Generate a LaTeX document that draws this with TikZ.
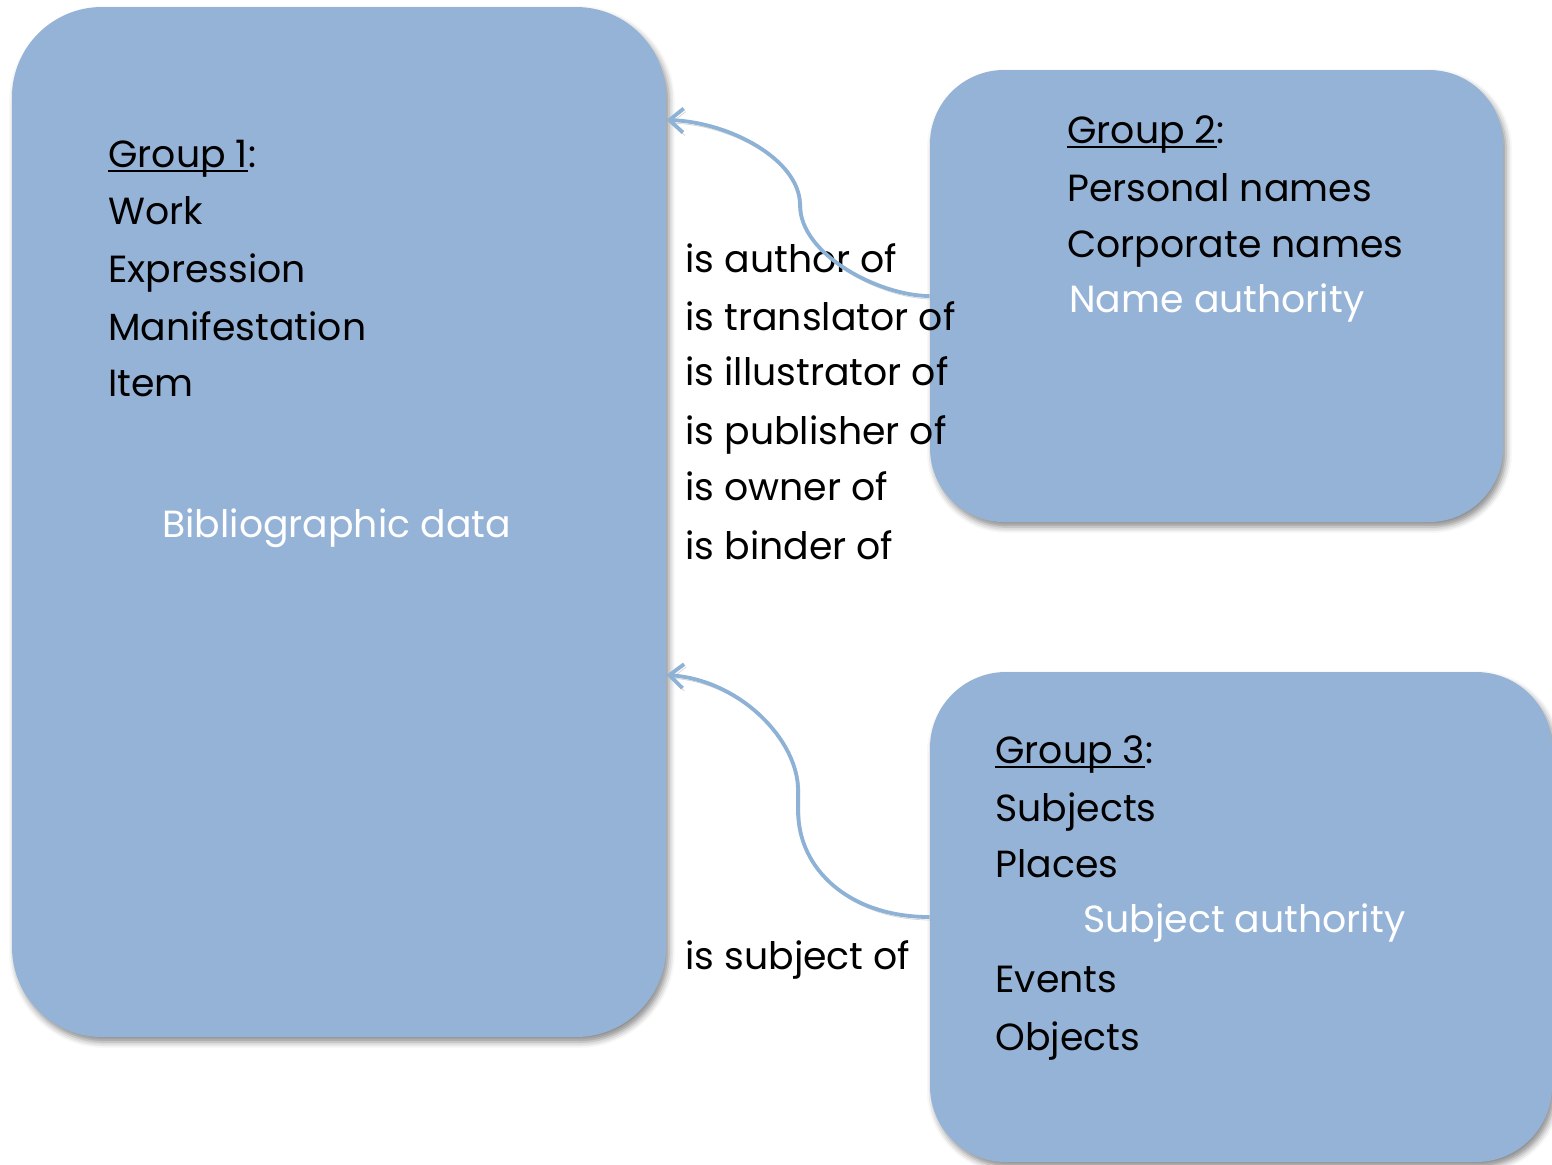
\documentclass[tikz,border=0pt]{standalone}
\usepackage{fontspec}
\setmainfont{Poppins}
\newcommand{\grpul}[1]{\setbox0\hbox{#1}\rlap{\rule[-2.5pt]{\wd0}{1pt}}\box0}
\usetikzlibrary{arrows.meta,shadows.blur}
\definecolor{boxblue}{HTML}{95B3D7}
\definecolor{arrowblue}{HTML}{8EB1D6}
\begin{document}
\begin{tikzpicture}[x=0.5pt,y=-0.5pt,
  groupbox/.style={rectangle, rounded corners=#1, fill=boxblue, inner sep=0pt,
    blur shadow={shadow xshift=1.5pt, shadow yshift=-2.5pt, shadow blur radius=3pt, shadow opacity=45}},
  txt/.style={anchor=base west, inner sep=0pt, font=\fontsize{18.9}{22}\selectfont, text=black},
  wtxt/.style={txt, text=white},
  rel/.style={draw=arrowblue, line width=1.9pt, -{Straight Barb[length=7pt,width=12pt]},
    preaction={draw=black!45, opacity=0.35, transform canvas={xshift=1pt,yshift=-1.5pt}}}]
\useasboundingbox (0,0) rectangle (1552,1164);
\clip (0,0) rectangle (1552,1164);
% boxes
\node[groupbox=45pt, minimum width=327pt, minimum height=515pt] (g1) at (339,522) {};
\node[groupbox=37pt, minimum width=286.5pt, minimum height=226pt] (g2) at (1216.5,296) {};
\node[groupbox=38pt, minimum width=311pt, minimum height=245pt] (g3) at (1241,917) {};
% group 1 text
\node[txt] (g1t0) at (108,167) {\grpul{Group 1}:};
\node[txt] (g1t1) at (108,224) {Work};
\node[txt] (g1t2) at (108,282) {Expression};
\node[txt] (g1t3) at (108,340) {Manifestation};
\node[txt] (g1t4) at (108,396) {Item};
\node[wtxt] (g1t5) at (162,537) {Bibliographic data};
% group 2 text
\node[txt] (g2t0) at (1067,143) {\grpul{Group 2}:};
\node[txt] (g2t1) at (1067,201) {Personal names};
\node[txt] (g2t2) at (1067,257) {Corporate names};
\node[wtxt] (g2t3) at (1069,312) {Name authority};
% group 3 text
\node[txt] (g3t0) at (995,763) {\grpul{Group 3}:};
\node[txt] (g3t1) at (995,821) {Subjects};
\node[txt] (g3t2) at (995,877) {Places};
\node[wtxt] (g3t3) at (1083,932) {Subject authority};
\node[txt] (g3t4) at (995,992) {Events};
\node[txt] (g3t5) at (995,1050) {Objects};
% relation labels
\node[txt] (r1) at (685,272) {is author of};
\node[txt] (r2) at (685,330) {is translator of};
\node[txt] (r3) at (685,385) {is illustrator of};
\node[txt] (r4) at (685,444) {is publisher of};
\node[txt] (r5) at (685,500) {is owner of};
\node[txt] (r6) at (685,559) {is binder of};
\node[txt] (r7) at (685,969) {is subject of};
% arrows
\coordinate (h1) at (0,120);
\coordinate (h2) at (0,675);
\draw[rel] (g2.west) .. controls (880,296) and (800,255) .. (800,205)
  .. controls (800,160) and (730,122) .. (g1.east |- h1);
\draw[rel] (g3.west) .. controls (850,917) and (798,870) .. (798,810) -- (798,790)
  .. controls (798,740) and (740,680) .. (g1.east |- h2);
\end{tikzpicture}
\end{document}
